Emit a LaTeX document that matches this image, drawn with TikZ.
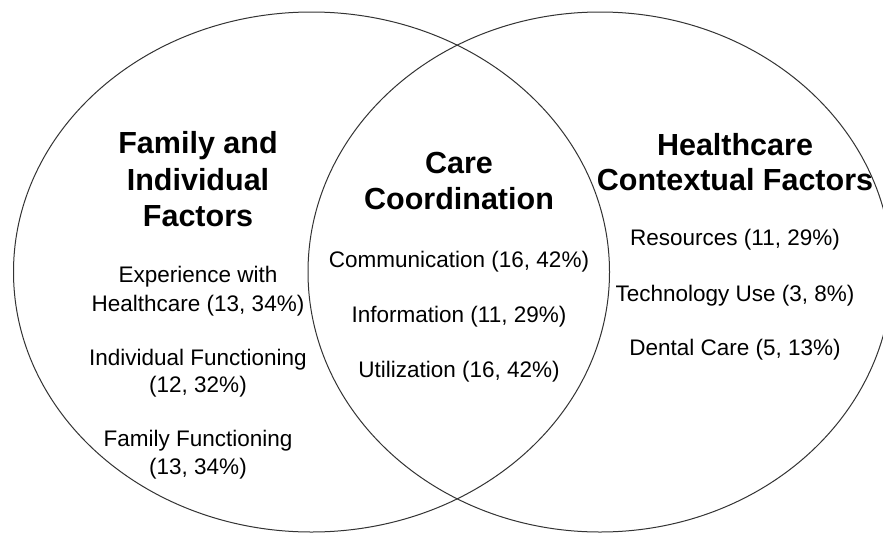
\documentclass[tikz,border=0pt]{standalone}
\usepackage{fontspec}
\setmainfont{Liberation Sans}
\begin{document}
\begin{tikzpicture}[x=1pt,y=-1pt,
  ring/.style={draw=black!80,line width=1pt},
  title/.style={anchor=base,inner sep=0pt,font=\fontsize{30.5}{36}\selectfont\bfseries},
  item/.style={anchor=base,inner sep=0pt,font=\fontsize{22.5}{28}\selectfont}]
\useasboundingbox (0,0) rectangle (883,533);
\fill[white] (0,0) rectangle (883,533);
\draw[ring] (311.5,272) ellipse [x radius=298, y radius=260];
\draw[ring] (600,272) ellipse [x radius=292, y radius=260];
% left
\node[title] (l1) at (198,153) {Family and};
\node[title] (l2) at (198,190) {Individual};
\node[title] (l3) at (198,226) {Factors};
\node[item] (a1) at (198,282) {Experience with};
\node[item] (a2) at (198,311) {Healthcare (13, 34\%)};
\node[item] (b1) at (198,365) {Individual Functioning};
\node[item] (b2) at (198,392) {(12, 32\%)};
\node[item] (c1) at (198,446) {Family Functioning};
\node[item] (c2) at (198,474) {(13, 34\%)};
% middle
\node[title] (m1) at (459,173) {Care};
\node[title] (m2) at (459,209) {Coordination};
\node[item] (d1) at (459,267) {Communication (16, 42\%)};
\node[item] (d2) at (459,322) {Information (11, 29\%)};
\node[item] (d3) at (459,377) {Utilization (16, 42\%)};
% right
\node[title] (r1) at (735,155) {Healthcare};
\node[title] (r2) at (735,190) {Contextual Factors};
\node[item] (e1) at (735,245) {Resources (11, 29\%)};
\node[item] (e2) at (735,301) {Technology Use (3, 8\%)};
\node[item] (e3) at (735,355) {Dental Care (5, 13\%)};
\end{tikzpicture}
\end{document}
